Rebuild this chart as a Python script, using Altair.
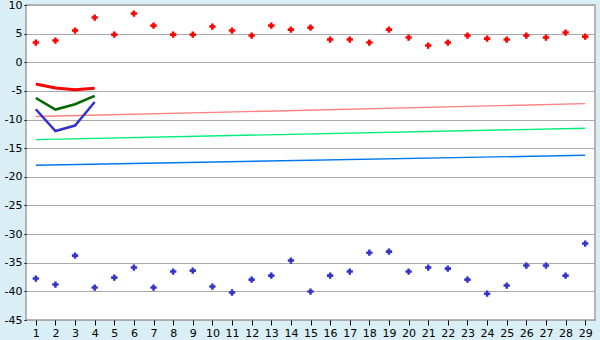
import altair as alt
import pandas as pd

categories = list(range(1, 30))
red_points = [3.44, 3.79, 5.53, 7.8, 4.83, 8.5, 6.4, 4.83, 4.83, 6.23,
              5.53, 4.66, 6.4, 5.7, 6.05, 3.96, 3.96, 3.44, 5.7, 4.31,
              2.91, 3.44, 4.66, 4.13, 3.96, 4.66, 4.31, 5.18, 4.48]
blue_points = [-37.77, -38.82, -33.76, -39.34, -37.6, -35.85, -39.34, -36.55, -36.38, -39.17,
               -40.2, -37.95, -37.25, -34.63, -40.04, -37.25, -36.55, -33.24, -33.06, -36.55,
               -35.85, -36.03, -37.95, -40.4, -38.99, -35.5, -35.5, -37.25, -31.66]

short_x = [1, 2, 3, 4]
short_red = [-3.8, -4.5, -4.8, -4.55]
short_green = [-6.23, -8.26, -7.33, -5.88]
short_blue = [-8.2, -12.0, -11.05, -6.93]

trend_x = [1, 29]
trend_pink = [-9.48, -7.22]
trend_green = [-13.5, -11.52]
trend_blue = [-17.98, -16.24]

x_scale = alt.Scale(domain=[0.5, 29.5], nice=False, zero=False)
y_scale = alt.Scale(domain=[-45, 10], nice=False, zero=False)
x_axis = alt.Axis(values=categories, grid=False, domain=False, tickColor="black",
                  tickSize=5, labelColor="black", labelFontSize=11, labelFont="DejaVu Sans",
                  title=None, labelPadding=2, format="d")
y_axis = alt.Axis(values=list(range(-45, 11, 5)), grid=True, gridColor="#aaaaaa",
                  domain=False, tickColor="black", tickSize=2, labelColor="black",
                  labelFontSize=11, labelFont="DejaVu Sans", title=None, labelPadding=2,
                  labelExpr="replace(datum.label, '\u2212', '-')")


def line_layer(xs, ys, color, width):
    df = pd.DataFrame({"x": xs, "y": ys})
    return alt.Chart(df).mark_line(color=color, strokeWidth=width).encode(
        x=alt.X("x:Q", scale=x_scale, axis=x_axis),
        y=alt.Y("y:Q", scale=y_scale, axis=y_axis),
    )


def point_layer(xs, ys, color):
    df = pd.DataFrame({"x": xs, "y": ys})
    return alt.Chart(df).mark_point(shape="cross", filled=True, size=40, color=color, opacity=1).encode(
        x=alt.X("x:Q", scale=x_scale, axis=x_axis),
        y=alt.Y("y:Q", scale=y_scale, axis=y_axis),
    )


chart = alt.layer(
    line_layer(trend_x, trend_pink, "#ff8080", 1.4),
    line_layer(trend_x, trend_green, "#00ee77", 1.4),
    line_layer(trend_x, trend_blue, "#0077ee", 1.4),
    line_layer(short_x, short_red, "#ff0000", 3),
    line_layer(short_x, short_green, "#006600", 2.5),
    line_layer(short_x, short_blue, "#3333cc", 2.5),
    point_layer(categories, red_points, "#ff0000"),
    point_layer(categories, blue_points, "#3333cc"),
).properties(
    width=569, height=315,
    background="#d9eff5",
    autosize=alt.AutoSizeParams(type="none"),
    padding={"left": 26, "top": 5, "right": 5, "bottom": 20},
).configure_view(
    fill="white", stroke="#a0a0a0", strokeWidth=1.5
)

chart.save("out.html", embed_options={"renderer": "svg", "actions": False})
